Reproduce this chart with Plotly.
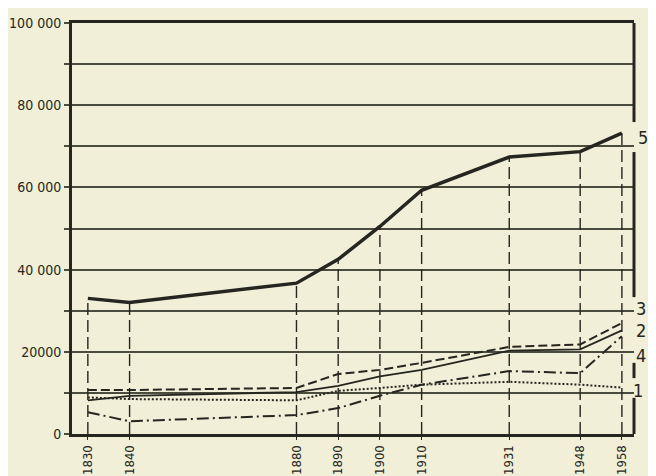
import plotly.graph_objects as go

# ---- data ----
years = [1830, 1840, 1880, 1890, 1900, 1910, 1931, 1948, 1958]
year_labels = ["1830", "1840", "1880", "1890", "1900", "1910", "1931", "1948", "1958"]
s5 = [33000, 32000, 36700, 42500, 50500, 59300, 67400, 68700, 73200]
s3 = [10700, 10700, 11200, 14600, 15600, 17300, 21200, 21800, 27000]
s2 = [8200, 9300, 10200, 11700, 14000, 15600, 20300, 20600, 25200]
s4 = [5300, 3100, 4600, 6300, 9300, 12000, 15300, 14800, 23800]
s1 = [8900, 8500, 8200, 10500, 11200, 12000, 12700, 12000, 11300]
y_tickvals = [0, 10000, 20000, 30000, 40000, 50000, 60000, 70000, 80000, 90000, 100000]
y_ticktext = ["0", "", "20000", "", "40 000", "", "60 000", "", "80 000", "", "100 000"]
series_labels = ["5", "3", "2", "4", "1"]

INK = "#262620"
GRID = "#4a4c3e"
BG = "#f1efd8"
FONT = "DejaVu Sans Condensed, Liberation Sans Narrow, Arial Narrow, sans-serif"

fig = go.Figure()

# vertical dashed drop lines from curve 5 to the axis
for x, v in zip(years, s5):
    fig.add_trace(go.Scatter(x=[x, x], y=[0, v], mode="lines",
                             line=dict(color=INK, width=1.4, dash="12px,5px"),
                             hoverinfo="skip", showlegend=False))

fig.add_trace(go.Scatter(x=years, y=s1, mode="lines", name="1",
                         line=dict(color=INK, width=2, dash="2px,2px")))
fig.add_trace(go.Scatter(x=years, y=s4, mode="lines", name="4",
                         line=dict(color=INK, width=2, dash="12px,4px,2px,4px")))
fig.add_trace(go.Scatter(x=years, y=s2, mode="lines", name="2",
                         line=dict(color=INK, width=1.8)))
fig.add_trace(go.Scatter(x=years, y=s3, mode="lines", name="3",
                         line=dict(color=INK, width=2, dash="9px,4px")))
fig.add_trace(go.Scatter(x=years, y=s5, mode="lines", name="5",
                         line=dict(color=INK, width=3.5)))

# right frame, broken where the curve numbers sit
for y0, y1 in [(0.759, 1.0), (0.333, 0.686), (0.136, 0.173), (0.0, 0.088)]:
    fig.add_shape(type="line", xref="paper", yref="paper", x0=1, x1=1, y0=y0, y1=y1,
                  line=dict(color=INK, width=3))

label_pos = [(1.016, 0.722), (1.012, 0.305), (1.012, 0.251), (1.012, 0.190), (1.008, 0.105)]
for txt, (px, py) in zip(series_labels, label_pos):
    fig.add_annotation(text=txt, xref="paper", yref="paper", x=px, y=py,
                       showarrow=False, xanchor="center", yanchor="middle",
                       font=dict(family=FONT, size=18, color=INK))

fig.update_layout(
    width=656, height=476,
    margin=dict(l=64, r=30, t=15, b=50, autoexpand=False),
    paper_bgcolor=BG, plot_bgcolor=BG,
    showlegend=False,
    font=dict(family=FONT, color=INK),
    xaxis=dict(range=[1826.2, 1960.9], tickvals=years, ticktext=year_labels,
               tickangle=-90, showgrid=False, zeroline=False, automargin=False,
               showline=True, linecolor=INK, linewidth=3, mirror=True,
               ticks="outside", ticklen=3, tickcolor=INK, tickwidth=1.4,
               tickfont=dict(size=13, family=FONT, color=INK)),
    yaxis=dict(range=[0, 100000], tickvals=y_tickvals, ticktext=y_ticktext,
               showgrid=True, gridcolor=GRID, gridwidth=1.5, zeroline=False,
               automargin=False,
               showline=True, linecolor=INK, linewidth=3,
               ticks="outside", ticklen=5, tickcolor=GRID, tickwidth=1.5,
               tickfont=dict(size=14, family=FONT, color=INK)),
)

fig.write_html("out.html")
